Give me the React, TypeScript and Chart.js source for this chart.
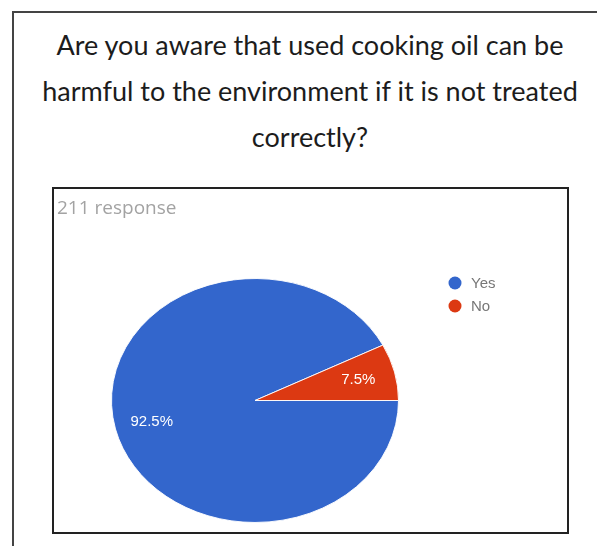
import React, { useEffect, useRef } from "react";
import { Chart, registerables } from "chart.js";

Chart.register(...registerables);

// ---- data ----
const TITLE_LINES = [
  "Are you aware that used cooking oil can be",
  "harmful to the environment if it is not treated",
  "correctly?",
];
const SUBTITLE = "211 response";
const CATEGORIES = ["Yes", "No"];
const VALUES = [92.5, 7.5];
const COLORS = ["#3366cc", "#dc3912"];
const VALUE_LABELS = ["92.5%", "7.5%"];

// ---- layout constants ----
const CANVAS_W = 513;
const CANVAS_H = 343;
const SQUASH = 0.85;
const PIE_CENTER_Y = 211.5;

const squashPlugin = {
  id: "squashPie",
  beforeDatasetsDraw(chart: any) {
    const ctx = chart.ctx;
    const arc = chart.getDatasetMeta(0).data[0];
    const cy = arc ? arc.y : (chart.chartArea.top + chart.chartArea.bottom) / 2;
    ctx.save();
    ctx.translate(0, PIE_CENTER_Y);
    ctx.scale(1, SQUASH);
    ctx.translate(0, -cy);
  },
  afterDatasetsDraw(chart: any) {
    const ctx = chart.ctx;
    ctx.restore();
    const meta = chart.getDatasetMeta(0);
    ctx.save();
    ctx.fillStyle = "#ffffff";
    ctx.font = '15px "Liberation Sans", Arial, sans-serif';
    ctx.textAlign = "center";
    ctx.textBaseline = "middle";
    meta.data.forEach((arc: any, i: number) => {
      const mid = (arc.startAngle + arc.endAngle) / 2;
      const r = arc.outerRadius * 0.74;
      const x = arc.x + Math.cos(mid) * r;
      const y = PIE_CENTER_Y + Math.sin(mid) * r * SQUASH;
      ctx.fillText(VALUE_LABELS[i], x, y);
    });
    ctx.restore();
  },
  afterDraw(chart: any) {
    const ctx = chart.ctx;
    ctx.save();
    // subtitle
    ctx.fillStyle = "#a3a3a3";
    ctx.font = '19px "Open Sans", sans-serif';
    ctx.textAlign = "left";
    ctx.textBaseline = "alphabetic";
    ctx.fillText(SUBTITLE, 3, 25);
    // legend
    ctx.font = '15px "Liberation Sans", Arial, sans-serif';
    ctx.textBaseline = "middle";
    CATEGORIES.forEach((c, i) => {
      const y = 94 + i * 23;
      ctx.fillStyle = COLORS[i];
      ctx.beginPath();
      ctx.arc(401, y, 6.5, 0, Math.PI * 2);
      ctx.fill();
      ctx.fillStyle = "#777777";
      ctx.fillText(c, 417, y + 1);
    });
    ctx.restore();
  },
};

export default function App() {
  const ref = useRef<HTMLCanvasElement | null>(null);

  useEffect(() => {
    if (!ref.current) return;
    const chart = new Chart(ref.current, {
      type: "pie",
      data: {
        labels: CATEGORIES,
        datasets: [
          {
            data: VALUES,
            backgroundColor: COLORS,
            borderColor: "#ffffff",
            borderWidth: 1,
            hoverOffset: 0,
            offset: 0,
          },
        ],
      },
      options: {
        animation: false,
        responsive: false,
        devicePixelRatio: 1,
        rotation: 90,
        layout: { padding: { left: 57, right: 168, top: 27, bottom: 28 } },
        plugins: {
          legend: { display: false },
          tooltip: { enabled: false },
          title: { display: false },
        },
      },
      plugins: [squashPlugin],
    });
    return () => chart.destroy();
  }, []);

  return (
    <div style={{ position: "absolute", left: 0, top: 0, width: 597, height: 546, overflow: "hidden", background: "#fff" }}>
      <div
        style={{
          position: "absolute",
          left: 12,
          top: 11,
          width: 620,
          height: 560,
          borderLeft: "2px solid #444",
          borderTop: "2px solid #444",
          boxSizing: "border-box",
        }}
      />
      <div
        style={{
          position: "absolute",
          left: 10,
          top: 21.5,
          width: 600,
          textAlign: "center",
          fontFamily: "Lato, sans-serif",
          fontSize: 27,
          lineHeight: "46px",
          color: "#1c1c1c",
          whiteSpace: "nowrap",
        }}
      >
        {TITLE_LINES.map((l, i) => (
          <div key={i}>{l}</div>
        ))}
      </div>
      <div
        style={{
          position: "absolute",
          left: 52,
          top: 187,
          width: 517,
          height: 347,
          border: "2px solid #222",
          boxSizing: "border-box",
        }}
      />
      <canvas
        ref={ref}
        width={CANVAS_W}
        height={CANVAS_H}
        style={{ position: "absolute", left: 54, top: 189, width: CANVAS_W, height: CANVAS_H }}
      />
    </div>
  );
}
